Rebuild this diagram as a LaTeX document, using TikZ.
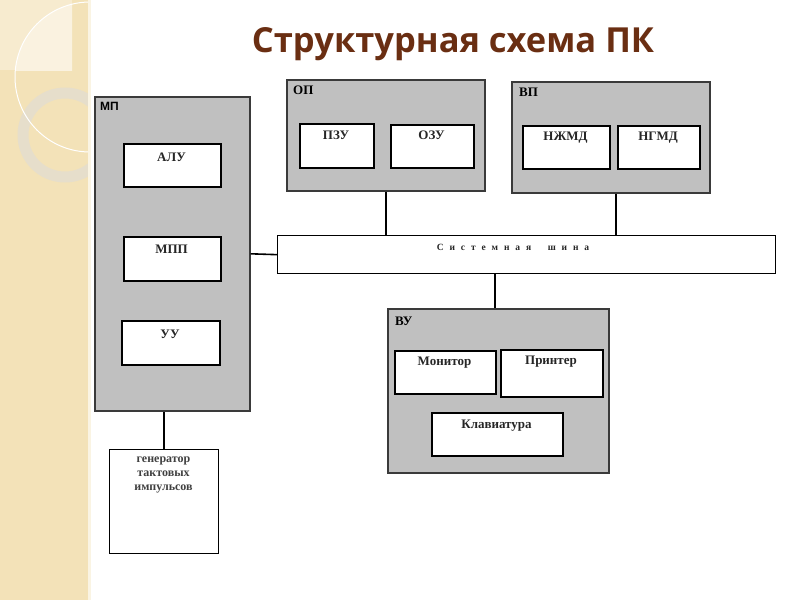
\documentclass[tikz,border=0pt]{standalone}
\usepackage{fontspec}
\setmainfont{Liberation Serif}
\newfontfamily\titlefont{Open Sans}
\newfontfamily\arialfont{Liberation Sans}
\definecolor{band}{HTML}{F3E2B8}
\definecolor{bandlight}{HTML}{F7EBCF}
\definecolor{ringc}{HTML}{E6DECB}
\definecolor{titlec}{HTML}{6A2E12}
\definecolor{panel}{HTML}{C0C0C0}
\definecolor{panelborder}{HTML}{3A3A3A}
\tikzset{
  panelbox/.style={draw=panelborder, line width=1.6pt, fill=panel, anchor=north west, inner sep=0pt},
  whitebox/.style={draw=black, line width=1.6pt, fill=white, anchor=north west, inner sep=0pt},
  boxtext/.style={font=\bfseries\fontsize{13}{15}\selectfont, anchor=north, inner sep=0pt, text=black!85},
  paneltext/.style={font=\bfseries\fontsize{13}{15}\selectfont, anchor=north west, inner sep=0pt},
  conn/.style={draw=black, line width=1.6pt}
}
\begin{document}
\begin{tikzpicture}[x=1pt,y=-1pt]
\useasboundingbox (0,0) rectangle (800,600);
\fill[white] (0,0) rectangle (800,600);
% decorative band
\fill[band] (0,0) rectangle (88,600);
\begin{scope}
\clip (0,0) rectangle (88,600);
\fill[bandlight] (0,0) rectangle (72,70);
\begin{scope}
\clip (0,0) rectangle (72,70);
\fill[white!35!bandlight] (90,77) circle (75);
\end{scope}
\draw[ringc, line width=11pt] (65,135) circle (42);
\draw[white, line width=1pt] (90,77) circle (75);
\end{scope}
\fill[white!60!band] (88,0) rectangle (91,600);
% title
\node[font=\titlefont\bfseries\fontsize{34.5}{40}\selectfont, text=titlec, inner sep=0pt, anchor=base] (title) at (453,52) {Структурная схема ПК};
% МП
\node[panelbox, minimum width=155pt, minimum height=314pt] (mp) at (94,96) {};
\node[font=\arialfont\bfseries\fontsize{12}{14}\selectfont, anchor=north west, inner sep=0pt] (mpl) at (100,102) {МП};
\node[whitebox, minimum width=97pt, minimum height=43pt] (alu) at (123,143) {};
\node[boxtext] (alut) at (171.5,153) {АЛУ};
\node[whitebox, minimum width=97pt, minimum height=44pt] (mpp) at (123,236) {};
\node[boxtext] (mppt) at (171.5,245) {МПП};
\node[whitebox, minimum width=98pt, minimum height=44pt] (uu) at (121,320) {};
\node[boxtext] (uut) at (170,330) {УУ};
% генератор
\node[whitebox, minimum width=109pt, minimum height=104pt, line width=1.3pt] (gen) at (109,449) {};
\node[font=\bfseries\fontsize{12}{14}\selectfont, align=center, anchor=north, inner sep=0pt, text=black!75] (gent) at (163.5,457) {генератор\\тактовых\\импульсов};
% ОП
\node[panelbox, minimum width=198pt, minimum height=111pt] (op) at (286,79) {};
\node[paneltext] (opl) at (293,86) {ОП};
\node[whitebox, minimum width=74pt, minimum height=44pt] (pzu) at (299,123) {};
\node[boxtext] (pzut) at (336,131) {ПЗУ};
\node[whitebox, minimum width=83pt, minimum height=43pt] (ozu) at (390,124) {};
\node[boxtext] (ozut) at (431.5,131) {ОЗУ};
% ВП
\node[panelbox, minimum width=198pt, minimum height=111pt] (vp) at (511,81) {};
\node[paneltext] (vpl) at (519,88) {ВП};
\node[whitebox, minimum width=87pt, minimum height=43pt] (ngmd1) at (522,125) {};
\node[boxtext] (ngmd1t) at (565.5,132) {НЖМД};
\node[whitebox, minimum width=82pt, minimum height=43pt] (ngmd2) at (617,125) {};
\node[boxtext] (ngmd2t) at (658,132) {НГМД};
% шина
\node[whitebox, line width=1.3pt, minimum width=498pt, minimum height=38pt] (bus) at (277,235) {};
\node[font=\bfseries\fontsize{9.5}{11}\selectfont\addfontfeature{LetterSpace=62}, anchor=north, inner sep=0pt, text=black!85] (bust) at (513,244) {Системная\ \ шина};
% ВУ
\node[panelbox, minimum width=221pt, minimum height=164pt] (vu) at (387,308) {};
\node[paneltext] (vul) at (395,317) {ВУ};
\node[whitebox, minimum width=101pt, minimum height=43pt] (mon) at (394,350) {};
\node[boxtext] (mont) at (444.5,357) {Монитор};
\node[whitebox, minimum width=102pt, minimum height=47pt] (pr) at (500,349) {};
\node[boxtext] (prt) at (551,356) {Принтер};
\node[whitebox, minimum width=131pt, minimum height=43pt] (kb) at (431,412) {};
\node[boxtext] (kbt) at (496.5,420) {Клавиатура};
% connectors
\draw[conn] (mp.east) -- (bus.west);
\draw[conn] (gen.north) -- (gen.north |- mp.south);
\draw[conn] (op.south) -- (op.south |- bus.north);
\draw[conn] ([xshift=5pt]vp.south) -- ([xshift=5pt]vp.south |- bus.north);
\draw[conn] ([xshift=-3.5pt]vu.north) -- ([xshift=-3.5pt]vu.north |- bus.south);
\end{tikzpicture}
\end{document}
